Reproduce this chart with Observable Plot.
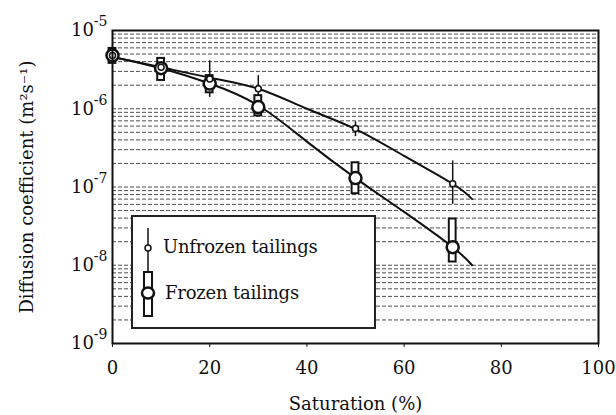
<!DOCTYPE html>
<html>
<head>
<meta charset="utf-8">
<script src="https://cdn.jsdelivr.net/npm/d3@7"></script>
<script src="https://cdn.jsdelivr.net/npm/@observablehq/plot@0.6"></script>
<style>
  html, body { margin: 0; padding: 0; background: white; }
  #wrap { position: relative; width: 616px; height: 415px; font-family: "DejaVu Serif", serif; }
  #legend { position: absolute; left: 131px; top: 215px; width: 241px; height: 110px;
            border: 2px solid #222; background: white; }
  #legend .lbl { position: absolute; font-size: 18px; line-height: 20px; color: #111; white-space: nowrap; letter-spacing: -0.2px; }
  #legend svg { position: absolute; left: 0; top: 0; }
</style>
</head>
<body>
<div id="wrap"></div>
<script>
// Data
const saturation = [0, 10, 20, 30, 50, 70];
const unfrozenD  = [4.8e-6, 3.4e-6, 2.4e-6, 1.8e-6, 5.6e-7, 1.1e-7];
const unfrozenLo = [4.2e-6, 3.0e-6, 1.4e-6, 1.2e-6, 4.4e-7, 6.0e-8];
const unfrozenHi = [5.5e-6, 3.9e-6, 4.1e-6, 2.65e-6, 6.8e-7, 2.15e-7];
const frozenD    = [4.8e-6, 3.3e-6, 2.1e-6, 1.05e-6, 1.3e-7, 1.7e-8];
const frozenLo   = [3.8e-6, 2.3e-6, 1.6e-6, 8.1e-7, 8.2e-8, 1.1e-8];
const frozenHi   = [5.9e-6, 4.4e-6, 2.65e-6, 1.47e-6, 2.04e-7, 3.9e-8];
// Fitted curves
const fitX        = [0, 10, 20, 30, 40, 50, 60, 70, 74];
const unfrozenFit = [4.6e-6, 3.4e-6, 2.5e-6, 1.8e-6, 1.0e-6, 5.5e-7, 2.5e-7, 1.1e-7, 7e-8];
const frozenFit   = [4.6e-6, 3.3e-6, 2.1e-6, 1.1e-6, 3.8e-7, 1.3e-7, 4.8e-8, 1.7e-8, 1.0e-8];
// Axis ticks
const xTicks = [0, 20, 40, 60, 80, 100];
const yTicks = [1e-9, 1e-8, 1e-7, 1e-6, 1e-5];
const seriesNames = ["Unfrozen tailings", "Frozen tailings"];

const unfrozen = saturation.map((s, i) => ({s, d: unfrozenD[i], lo: unfrozenLo[i], hi: unfrozenHi[i]}));
const frozen = saturation.map((s, i) => ({s, d: frozenD[i], lo: frozenLo[i], hi: frozenHi[i]}));
const uFit = fitX.map((s, i) => ({s, d: unfrozenFit[i]}));
const fFit = fitX.map((s, i) => ({s, d: frozenFit[i]}));
const gridTicks = d3.scaleLog().domain([1e-9, 1e-5]).ticks();

const chart = Plot.plot({
  width: 616, height: 415,
  marginLeft: 112, marginRight: 18, marginTop: 30, marginBottom: 72,
  style: {fontFamily: "DejaVu Serif", fontSize: "18px", color: "#111", background: "white"},
  x: {domain: [0, 100]},
  y: {type: "log", domain: [1e-9, 1e-5]},
  marks: [
    Plot.gridY({ticks: gridTicks, stroke: "#222", strokeOpacity: 0.8, strokeDasharray: "4,2"}),
    Plot.line(uFit, {x: "s", y: "d", stroke: "#111", strokeWidth: 2, curve: "natural"}),
    Plot.line(fFit, {x: "s", y: "d", stroke: "#111", strokeWidth: 2, curve: "natural"}),
    // unfrozen error bars
    Plot.ruleX(unfrozen, {x: "s", y1: "lo", y2: "hi", stroke: "#111", strokeWidth: 1.5}),
    // frozen error bars (outlined bars)
    Plot.rect(frozen, {x1: d => d.s - 0.7, x2: d => d.s + 0.7, y1: "lo", y2: "hi", fill: "white", stroke: "#111", strokeWidth: 2}),
    Plot.dot(frozen, {x: "s", y: "d", r: 6, fill: "white", stroke: "#111", strokeWidth: 2.5}),
    Plot.dot(unfrozen, {x: "s", y: "d", r: 3, fill: "white", stroke: "#111", strokeWidth: 1.5}),
    Plot.frame({stroke: "#111", strokeWidth: 2}),
    Plot.axisX({ticks: xTicks, tickSize: 4, tickPadding: 14, fontSize: 18,
      label: "Saturation (%)", labelAnchor: "center", labelOffset: 66, labelArrow: "none"}),
    Plot.axisY({ticks: yTicks, tickSize: 0, tickPadding: 5, fontSize: 18,
      tickFormat: d => "10^" + Math.round(Math.log10(d)),
      label: "Diffusion coefficient (m²s⁻¹)", labelAnchor: "center", labelOffset: 92, labelArrow: "none"})
  ]
});

// superscript exponents on y tick labels
chart.querySelectorAll('g[aria-label="y-axis tick label"] text').forEach(t => {
  const s = t.textContent;
  if (!s.includes("^")) return;
  const [base, exp] = s.split("^");
  t.textContent = base;
  const ts = document.createElementNS("http://www.w3.org/2000/svg", "tspan");
  ts.setAttribute("dy", "-0.7em");
  ts.setAttribute("font-size", "14");
  ts.textContent = exp;
  t.appendChild(ts);
});

const wrap = document.getElementById("wrap");
wrap.appendChild(chart);

// legend
const legend = document.createElement("div");
legend.id = "legend";
legend.innerHTML = `
<svg width="30" height="110">
  <line x1="15" x2="15" y1="11" y2="58" stroke="#111" stroke-width="1.5"/>
  <circle cx="15" cy="31" r="3" fill="white" stroke="#111" stroke-width="1.5"/>
  <rect x="11" y="55" width="8" height="44" fill="white" stroke="#111" stroke-width="2"/>
  <ellipse cx="15" cy="76" rx="6" ry="5.5" fill="white" stroke="#111" stroke-width="2.5"/>
</svg>
<div class="lbl" style="left:30px; top:20px">${seriesNames[0]}</div>
<div class="lbl" style="left:32px; top:66px">${seriesNames[1]}</div>`;
wrap.appendChild(legend);
</script>
</body>
</html>
